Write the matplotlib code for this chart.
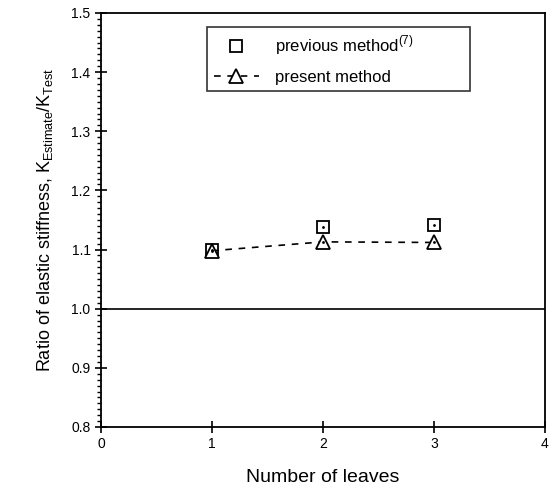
import numpy as np
import matplotlib.pyplot as plt
from matplotlib.ticker import MultipleLocator, FormatStrFormatter

plt.rcParams['font.family'] = ['Liberation Sans', 'DejaVu Sans']
plt.rcParams['mathtext.fontset'] = 'custom'
plt.rcParams['mathtext.rm'] = 'Liberation Sans'

leaves = [1, 2, 3]
previous = [1.100, 1.138, 1.141]
present = [1.098, 1.113, 1.112]

fig = plt.figure(figsize=(5.53, 4.9), dpi=100)
ax = fig.add_axes([0.1826, 0.1286, 0.8029, 0.8449])

ax.axhline(1.0, color='k', lw=1.2)
ax.plot(leaves, previous, 's', ms=8, mfc='white', mec='k', mew=1.3,
        ls='none', label='previous method$^{(7)}$')
ax.plot(leaves, present, '^', ms=10, mfc='white', mec='k', mew=1.3,
        ls=(0, (4, 4)), color='k', lw=1.2, label='present method')
# center dots
ax.plot(leaves, previous, 'k.', ms=2)
ax.plot(leaves, present, 'k.', ms=2)

ax.set_xlim(0, 4)
ax.set_ylim(0.8, 1.5)
ax.xaxis.set_major_locator(MultipleLocator(1))
ax.yaxis.set_major_locator(MultipleLocator(0.1))
ax.yaxis.set_minor_locator(MultipleLocator(0.01))
ax.yaxis.set_major_formatter(FormatStrFormatter('%.1f'))
ax.tick_params(which='major', direction='inout', length=8, width=1.2,
               labelsize=10)
ax.tick_params(axis='y', which='minor', direction='out', length=3, width=1)
for s in ax.spines.values():
    s.set_linewidth(1.3)

ax.set_xlabel('Number of leaves', fontsize=14, labelpad=13)
ax.set_ylabel(r'Ratio of elastic stiffness, K$_{\mathrm{Estimate}}$/K$_{\mathrm{Test}}$',
              fontsize=13, labelpad=12)

leg = ax.legend(loc='upper left', bbox_to_anchor=(0.239, 0.811, 0.592, 0.155),
                mode='expand', fontsize=12, frameon=True, fancybox=False,
                edgecolor='k', handlelength=2.7, borderpad=0.4,
                labelspacing=0.75, handletextpad=1.0, borderaxespad=0)
leg.get_frame().set_linewidth(1.2)

fig.savefig('out.png', dpi=100)
